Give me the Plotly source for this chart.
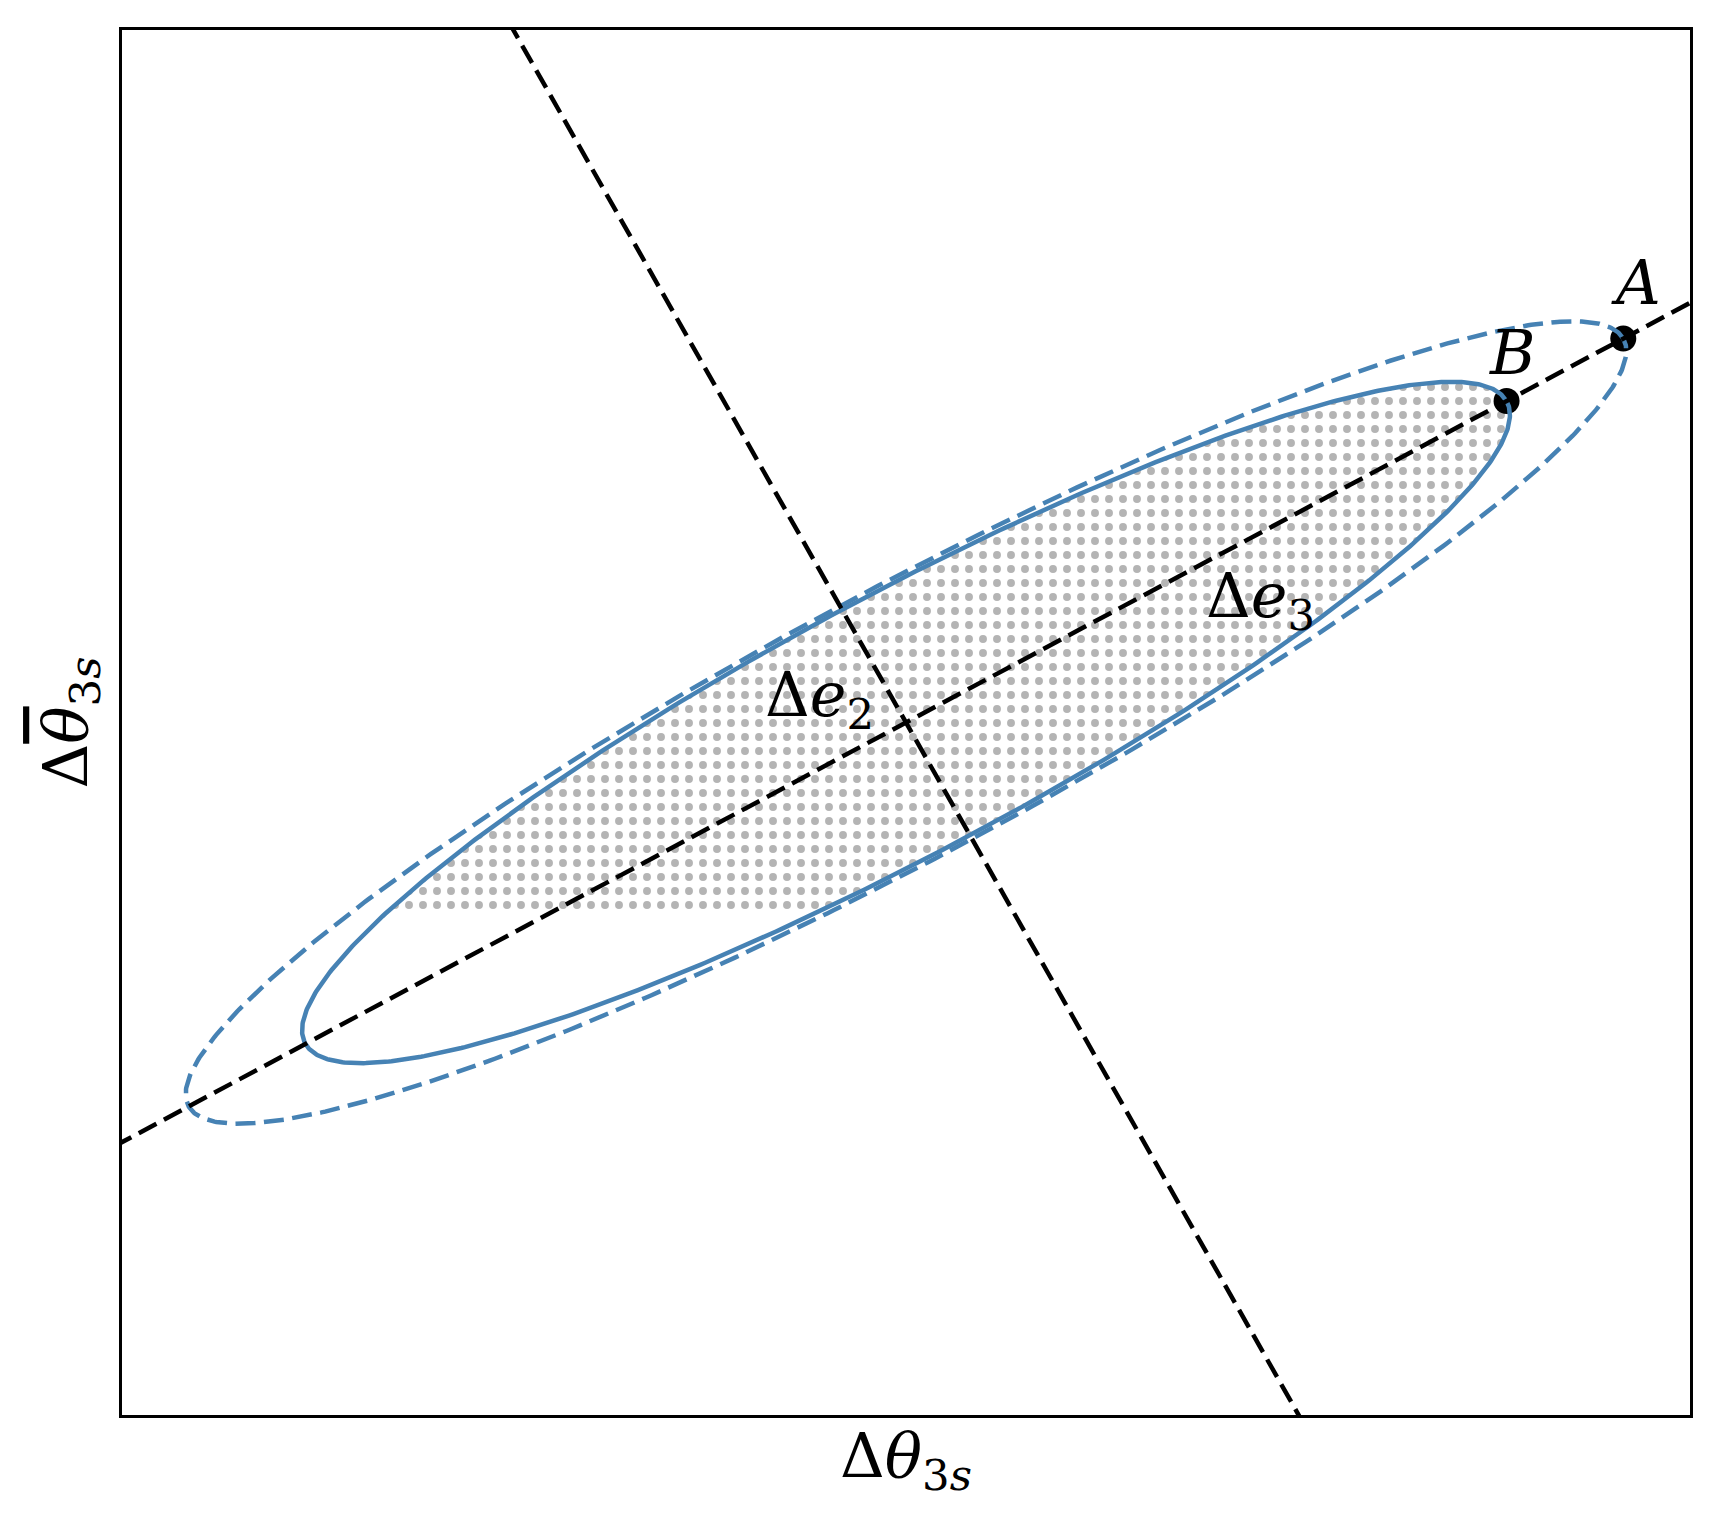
import numpy as np
import plotly.graph_objects as go

# ---------------- data (arbitrary units, no ticks shown) ----------------
x_range = [-1.1, 1.1]
y_range = [-1.0, 1.0]

center = [0.0, 0.0]
axis_angle_deg = 28.85          # direction of the Δe3 eigen-axis
solid_axes = [0.962, 0.186]     # semi-axes (along Δe3, along Δe2) of solid contour
dashed_axes = [1.149, 0.192]    # semi-axes of dashed contour
cloud_y_min = -0.271            # lower bound of the sampled cloud region

point_names = ["A", "B"]
point_dist = [1.149, 0.962]     # distance of A, B from centre along Δe3

axis_label_names = ["Δ<i>e</i><sub>3</sub>", "Δ<i>e</i><sub>2</sub>"]
axis_label_x = [0.497, -0.122]
axis_label_y = [0.177, 0.035]

x_title = "Δ<i>θ</i><sub>3<i>s</i></sub>"
y_title = "Δ<i><span style=\"text-decoration:overline\">θ</span></i><sub>3<i>s</i></sub>"

# ---------------- geometry helpers ----------------
th = np.deg2rad(axis_angle_deg)
u = np.array([np.cos(th), np.sin(th)])
v = np.array([-np.sin(th), np.cos(th)])
c = np.array(center)


def ellipse(axes, n=721):
    t = np.linspace(0, 2 * np.pi, n)
    pts = c[None, :] + np.outer(axes[0] * np.cos(t), u) + np.outer(axes[1] * np.sin(t), v)
    return pts[:, 0], pts[:, 1]


def clip_above(xs, ys, ymin):
    out = []
    n = len(xs)
    for i in range(n):
        p = (xs[i], ys[i])
        q = (xs[(i + 1) % n], ys[(i + 1) % n])
        pin, qin = p[1] >= ymin, q[1] >= ymin
        if pin:
            out.append(p)
        if pin != qin:
            f = (ymin - p[1]) / (q[1] - p[1])
            out.append((p[0] + f * (q[0] - p[0]), ymin))
    out.append(out[0])
    arr = np.array(out)
    return arr[:, 0], arr[:, 1]


sx, sy = ellipse(solid_axes)
dx, dy = ellipse(dashed_axes)
cx, cy = clip_above(sx[:-1], sy[:-1], cloud_y_min)

fig = go.Figure()

# cloud of samples (dotted texture)
fig.add_trace(go.Scatter(
    x=cx, y=cy, mode="lines", line=dict(width=0, color="rgba(0,0,0,0)"),
    fill="toself", fillcolor="rgba(0,0,0,0)",
    fillpattern=dict(shape=".", size=14, solidity=0.25, fgcolor="#8c8c8c",
                     fgopacity=0.65, bgcolor="rgba(255,255,255,0)", fillmode="replace"),
    hoverinfo="skip", showlegend=False))

# points A and B
pts = c[None, :] + np.outer(point_dist, u)
fig.add_trace(go.Scatter(
    x=pts[:, 0], y=pts[:, 1], mode="markers",
    marker=dict(size=26, color="black"), showlegend=False))

dash_style = "20px,8.5px"
# contours
fig.add_trace(go.Scatter(x=dx, y=dy, mode="lines",
                         line=dict(color="#4682b4", width=4.5, dash=dash_style),
                         showlegend=False))
fig.add_trace(go.Scatter(x=sx, y=sy, mode="lines",
                         line=dict(color="#4682b4", width=4.5),
                         showlegend=False))

# eigen-axes
for d in (u, v):
    L = 3.0
    fig.add_trace(go.Scatter(x=[c[0] - L * d[0], c[0] + L * d[0]],
                             y=[c[1] - L * d[1], c[1] + L * d[1]],
                             mode="lines",
                             line=dict(color="black", width=4.5, dash=dash_style),
                             showlegend=False))

font_family = "DejaVu Serif"
shifts = [(13, 56), (6, 49)]
for name, p, (xs_, ys_) in zip(point_names, pts, shifts):
    fig.add_annotation(x=p[0], y=p[1], text=f"<i>{name}</i>", showarrow=False,
                       xshift=xs_, yshift=ys_,
                       font=dict(family=font_family, size=62, color="black"))

for t, xx, yy in zip(axis_label_names, axis_label_x, axis_label_y):
    fig.add_annotation(x=xx, y=yy, text=t, showarrow=False,
                       font=dict(family=font_family, size=62, color="black"))

axis_common = dict(showgrid=False, zeroline=False, showticklabels=False, ticks="",
                   showline=True, mirror=True, linecolor="black", linewidth=2.5)

fig.update_layout(
    width=1721, height=1524,
    margin=dict(l=122, r=31, t=30, b=109, pad=0),
    paper_bgcolor="white", plot_bgcolor="white",
    xaxis=dict(range=x_range, title=dict(text=x_title, standoff=17,
                                         font=dict(family=font_family, size=62, color="black")),
               **axis_common),
    yaxis=dict(range=y_range, title=dict(text=y_title, standoff=12,
                                         font=dict(family=font_family, size=62, color="black")),
               **axis_common),
    showlegend=False,
)

fig.write_html("out.html", config={"displayModeBar": False},
               post_script="document.body.style.margin='0';document.body.style.overflow='hidden';")
